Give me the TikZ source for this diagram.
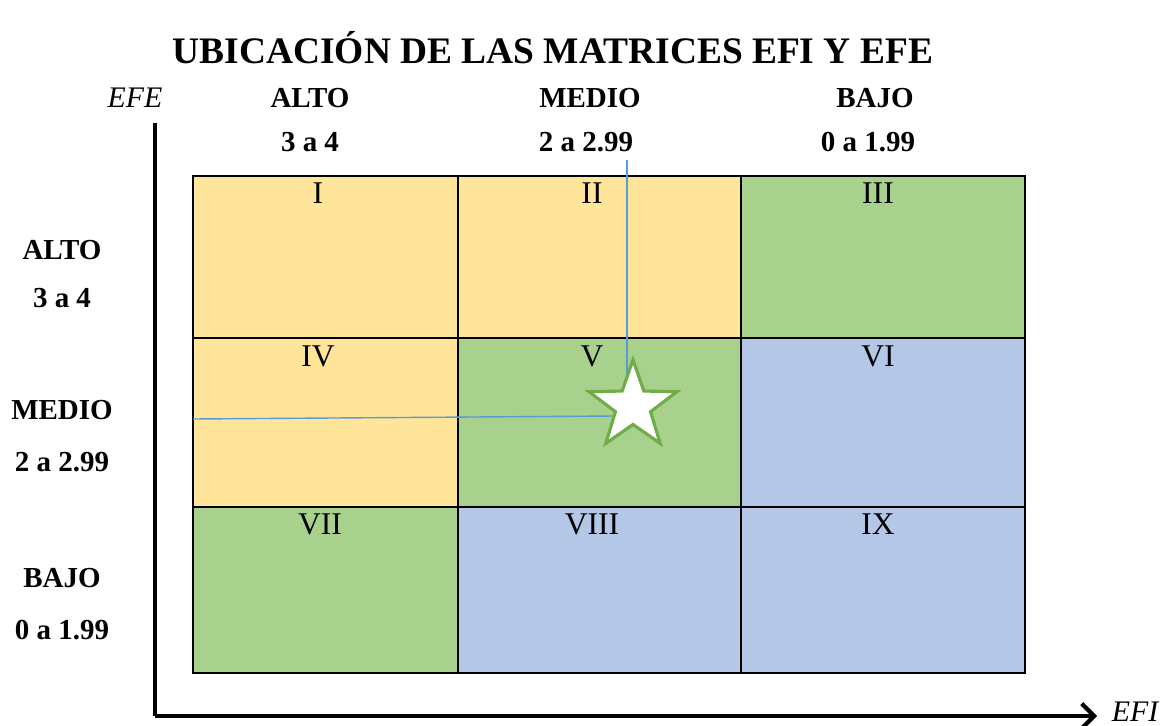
\documentclass[tikz,border=0pt]{standalone}
\usepackage{fontspec}
\setmainfont{Liberation Serif}
\usetikzlibrary{shapes.geometric,arrows.meta}

\definecolor{amarillo}{HTML}{FFE59A}
\definecolor{verde}{HTML}{A9D18E}
\definecolor{azul}{HTML}{B4C7E7}
\definecolor{linea}{HTML}{5B9BD5}
\definecolor{borde}{HTML}{70AD47}

\tikzset{
  celda/.style={draw=black, line width=1.1pt, inner sep=0pt, minimum width=#1},
  etiq/.style={font=\fontsize{16.5}{19}\selectfont\bfseries},
  numero/.style={font=\fontsize{18}{20}\selectfont, anchor=north, inner sep=0pt},
  eje/.style={line width=2.4pt, -{Straight Barb[length=7pt,width=14pt,line width=2.4pt]}},
  guia/.style={draw=linea, line width=0.8pt},
  marca/.style={star, star points=5, star point ratio=2.5, draw=borde, fill=white, line width=1.8pt, minimum size=1.85cm, inner sep=0pt}
}

\begin{document}
\begin{tikzpicture}[x=0.02cm, y=-0.02cm]
\useasboundingbox (0,0) rectangle (1173,726);

\node[font=\fontsize{21.3}{25}\selectfont\bfseries] (titulo) at (553,48) {UBICACIÓN DE LAS MATRICES EFI Y EFE};

% ejes
\coordinate (origen) at (155,716);
\coordinate (arriba) at (155,123);
\coordinate (derecha) at (1097,716);
\draw[line width=2.4pt] (origen) -- (arriba);
\draw[eje] (origen) -- (derecha);
\node[font=\fontsize{17}{20}\selectfont\itshape] (efe) at (135,98) {EFE};
\node[font=\fontsize{17}{20}\selectfont\itshape] (efi) at (1135,712) {EFI};

% encabezados
\node[etiq] (altoX) at (310,98) {ALTO};
\node[etiq] (rangoAX) at (310,142) {3 a 4};
\node[etiq] (medioX) at (590,98) {MEDIO};
\node[etiq] (rangoMX) at (586,142) {2 a 2.99};
\node[etiq] (bajoX) at (875,98) {BAJO};
\node[etiq] (rangoBX) at (868,142) {0 a 1.99};
\node[etiq] (altoY) at (62,250) {ALTO};
\node[etiq] (rangoAY) at (62,298) {3 a 4};
\node[etiq] (medioY) at (62,410) {MEDIO};
\node[etiq] (rangoMY) at (62,462) {2 a 2.99};
\node[etiq] (bajoY) at (62,578) {BAJO};
\node[etiq] (rangoBY) at (62,630) {0 a 1.99};

% celdas
\node[celda=5.3cm, minimum height=3.24cm, fill=amarillo] (c1) at (325.5,257) {};
\node[celda=5.66cm, minimum height=3.24cm, fill=amarillo] (c2) at (599.5,257) {};
\node[celda=5.68cm, minimum height=3.24cm, fill=verde] (c3) at (883,257) {};
\node[celda=5.3cm, minimum height=3.38cm, fill=amarillo] (c4) at (325.5,422.5) {};
\node[celda=5.66cm, minimum height=3.38cm, fill=verde] (c5) at (599.5,422.5) {};
\node[celda=5.68cm, minimum height=3.38cm, fill=azul] (c6) at (883,422.5) {};
\node[celda=5.3cm, minimum height=3.32cm, fill=verde] (c7) at (325.5,590) {};
\node[celda=5.66cm, minimum height=3.32cm, fill=azul] (c8) at (599.5,590) {};
\node[celda=5.68cm, minimum height=3.32cm, fill=azul] (c9) at (883,590) {};

\node[numero] (n1) at (318,182) {I};
\node[numero] (n2) at (592,182) {II};
\node[numero] (n3) at (878,182) {III};
\node[numero] (n4) at (318,345) {IV};
\node[numero] (n5) at (592,345) {V};
\node[numero] (n6) at (878,345) {VI};
\node[numero] (n7) at (320,513) {VII};
\node[numero] (n8) at (592,513) {VIII};
\node[numero] (n9) at (878,513) {IX};

% ubicacion
\coordinate (guiaV) at (627,160);
\coordinate (finV) at (627,378);
\coordinate (guiaH) at (193,419);
\coordinate (finH) at (615,416);
\draw[guia] (guiaV) -- (finV);
\draw[guia] (guiaH) -- (finH);
\node[marca] (estrella) at (633,406) {};

\end{tikzpicture}
\end{document}
